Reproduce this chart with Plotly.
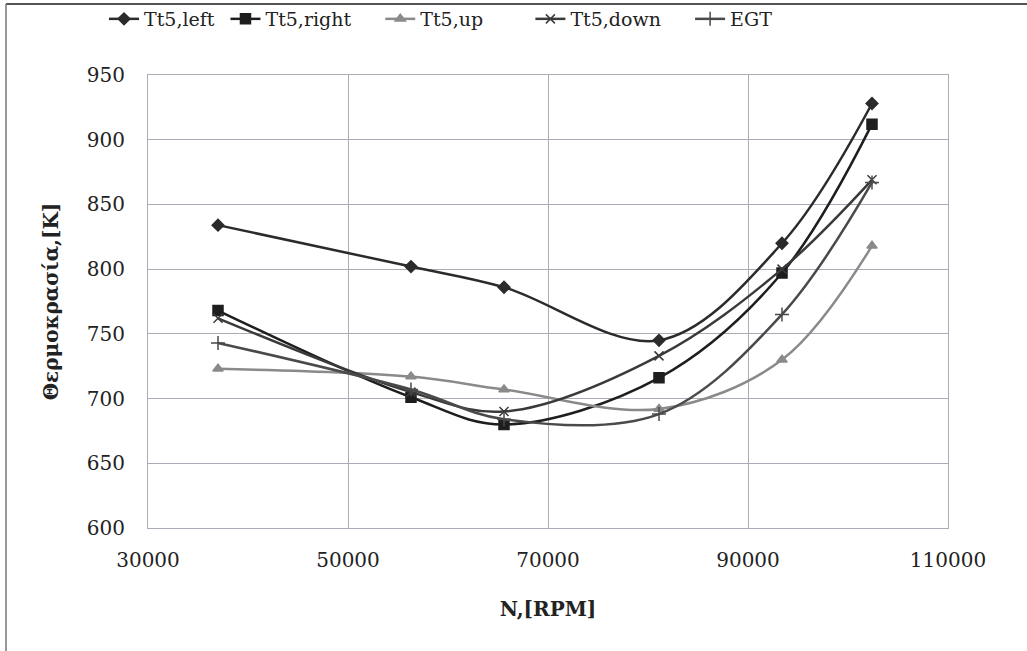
import plotly.graph_objects as go

rpm = [37000, 56300, 65600, 81100, 93400, 102400]
tt5_left = [834, 802, 786, 745, 820, 928]
tt5_right = [768, 701, 680, 716, 797, 912]
tt5_up = [723, 717, 707, 692, 730, 818]
tt5_down = [762, 705, 690, 733, 800, 869]
egt = [743, 707, 684, 688, 765, 867]

series = [
    ("Tt5,left", tt5_left, "#2b2b2b", "diamond", 9, 1),
    ("Tt5,right", tt5_right, "#1e1e1e", "square", 10, 4),
    ("Tt5,up", tt5_up, "#8a8a8a", "triangle-up", 9, 7),
    ("Tt5,down", tt5_down, "#3a3a3a", "x-thin-open", 9, 4),
    ("EGT", egt, "#4a4a4a", "cross-thin-open", 10, 0),
]

NB = "\u00a0"
fig = go.Figure()
for name, ys, col, sym, sz, pad in series:
    fig.add_trace(go.Scatter(
        x=rpm, y=ys, name=name + NB * pad, mode="lines+markers",
        line=dict(color=col, width=2.5, shape="spline", smoothing=1.0),
        marker=dict(symbol=sym, size=sz, color=col, line=dict(color=col, width=1.5)),
    ))

font_family = "DejaVu Serif"
fig.update_layout(
    width=1027, height=651,
    margin=dict(l=148, r=79, t=75, b=123),
    paper_bgcolor="white", plot_bgcolor="white",
    font=dict(family=font_family, size=20, color="#222"),
    showlegend=True,
    legend=dict(orientation="h", x=104 / 1027, y=1 - 19 / 651, xanchor="left", yanchor="middle",
                xref="container", yref="container",
                font=dict(family=font_family, size=19, color="#222"),
                tracegroupgap=0, bgcolor="rgba(0,0,0,0)"),
    xaxis=dict(range=[30000, 110000], dtick=20000, tick0=30000, tickformat="d",
               showgrid=True, gridcolor="#a9acb6", gridwidth=1,
               showline=True, linecolor="#a9acb6", mirror=True,
               ticks="", tickfont=dict(family=font_family, size=20, color="#222"),
               ticklabelstandoff=14,
               title=dict(text="<b>N,[RPM]</b>", font=dict(family=font_family, size=20, color="#222"),
                          standoff=30),
               zeroline=False),
    yaxis=dict(range=[600, 950], dtick=50,
               showgrid=True, gridcolor="#a9acb6", gridwidth=1,
               showline=True, linecolor="#a9acb6", mirror=True,
               ticks="", tickfont=dict(family=font_family, size=20, color="#222"),
               ticklabelstandoff=18,
               title=dict(text="<b>Θερμοκρασία,[K]</b>", font=dict(family=font_family, size=20, color="#222"),
                          standoff=22),
               zeroline=False),
)

# outer frame (top and left edges as in the scanned figure)
fig.add_shape(type="line", xref="paper", yref="paper",
              x0=(6 - 148) / 800, x1=(1027 - 148) / 800,
              y0=(528 - 4) / 453, y1=(528 - 4) / 453,
              line=dict(color="#555", width=2))
fig.add_shape(type="line", xref="paper", yref="paper",
              x0=(6 - 148) / 800, x1=(6 - 148) / 800,
              y0=(528 - 4) / 453, y1=(528 - 651) / 453,
              line=dict(color="#777", width=1.5))

fig.write_html("out.html")
